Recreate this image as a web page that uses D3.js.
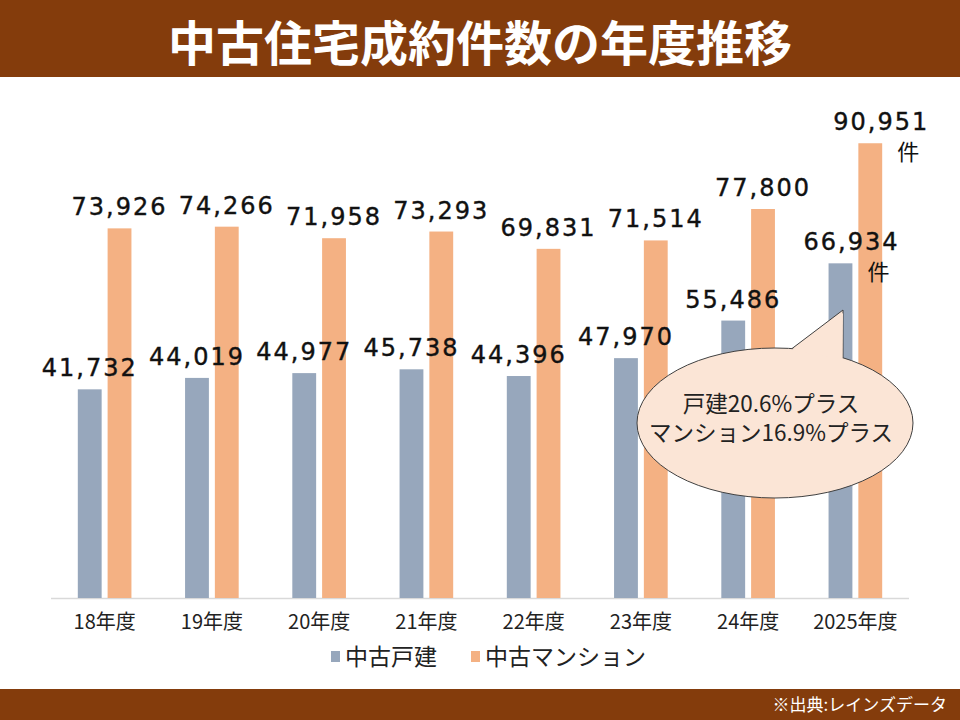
<!DOCTYPE html>
<html lang="ja">
<head>
<meta charset="UTF-8">
<title>中古住宅成約件数の年度推移</title>
<script src="https://cdn.jsdelivr.net/npm/d3@7"></script>
<style>
  body { margin: 0; background: #fff; }
  svg { display: block; }
</style>
</head>
<body>
<script>
var width = 960, height = 720;

// データ
var categories = ["18年度", "19年度", "20年度", "21年度", "22年度", "23年度", "24年度", "2025年度"];
var seriesNames = ["中古戸建", "中古マンション"];
var detached = [41732, 44019, 44977, 45738, 44396, 47970, 55486, 66934];
var mansion = [73926, 74266, 71958, 73293, 69831, 71514, 77800, 90951];
var unitLabels = ["", "", "", "", "", "", "", "件"];
var calloutLines = ["戸建20.6%プラス", "マンション16.9%プラス"];

var colors = ["#97a7bc", "#f4b183"];
var brown = "#843c0c";
var numFont = "'DejaVu Sans', Verdana, sans-serif";
var jpFont = "'Noto Sans CJK JP', 'Noto Sans', sans-serif";

var plot = { left: 51, right: 909, top: 98, bottom: 598 };

var svg = d3.select("body").append("svg")
    .attr("width", width).attr("height", height);

// タイトル帯
svg.append("rect").attr("x", 0).attr("y", 0).attr("width", width).attr("height", 77).attr("fill", brown);
svg.append("text")
    .attr("x", 480).attr("y", 61)
    .attr("text-anchor", "middle")
    .attr("fill", "#fff")
    .attr("font-family", jpFont)
    .attr("font-weight", "bold")
    .attr("font-size", 48)
    .text("中古住宅成約件数の年度推移");

// 下の帯
svg.append("rect").attr("x", 0).attr("y", 689).attr("width", width).attr("height", 31).attr("fill", brown);
svg.append("text")
    .attr("x", 947).attr("y", 711)
    .attr("text-anchor", "end")
    .attr("fill", "#fff")
    .attr("font-family", jpFont)
    .attr("font-size", 17)
    .text("※出典:レインズデータ");

// スケール
var x0 = d3.scaleBand().domain(categories).range([plot.left, plot.right])
    .paddingInner(0.5).paddingOuter(0.25);
var x1 = d3.scaleBand().domain(seriesNames).range([0, x0.bandwidth()]).paddingInner(0.2);
var y = d3.scaleLinear().domain([0, 100000]).range([plot.bottom, plot.top]);

var rows = categories.map(function(c, i) {
    return { cat: c, unit: unitLabels[i], vals: [detached[i], mansion[i]] };
});

// 軸
var xAxis = svg.append("g")
    .attr("transform", "translate(0," + plot.bottom + ")")
    .call(d3.axisBottom(x0).tickSize(0).tickPadding(0));
xAxis.select(".domain").attr("stroke", "#d9d9d9").attr("stroke-width", 1.3)
    .attr("d", "M" + plot.left + ",0.5H" + plot.right);
xAxis.selectAll("text")
    .attr("dy", 31)
    .attr("fill", "#222")
    .attr("font-family", jpFont)
    .attr("font-size", 20);

// 棒
var groups = svg.selectAll("g.grp").data(rows).enter().append("g")
    .attr("class", "grp")
    .attr("transform", function(d) { return "translate(" + x0(d.cat) + ",0)"; });

groups.selectAll("rect")
    .data(function(d) { return d.vals.map(function(v, j) { return { name: seriesNames[j], v: v, j: j }; }); })
    .enter().append("rect")
    .attr("x", function(d) { return x1(d.name); })
    .attr("y", function(d) { return y(d.v); })
    .attr("width", x1.bandwidth())
    .attr("height", function(d) { return plot.bottom - y(d.v); })
    .attr("fill", function(d) { return colors[d.j]; });

// 吹き出し
var cx = 775, cy = 423, rx = 138, ry = 75;
var tip = [843, 310];
function edgeY(px) { return cy - ry * Math.sqrt(1 - Math.pow((px - cx) / rx, 2)); }
var ax = 792, bx = 843;
svg.append("g").call(function(g) {
    g.append("ellipse").attr("cx", cx).attr("cy", cy).attr("rx", rx).attr("ry", ry)
        .attr("fill", "#fbe5d6").attr("stroke", "#404040").attr("stroke-width", 1);
    g.append("path").attr("d", "M" + ax + "," + edgeY(ax) + "L" + tip[0] + "," + tip[1] + "L" + bx + "," + edgeY(bx))
        .attr("fill", "#fbe5d6").attr("stroke", "#404040").attr("stroke-width", 1);
    // つなぎ目を隠す
    g.append("path").attr("d", "M" + ax + "," + (edgeY(ax) + 1.5) +
        "L" + tip[0] + "," + (tip[1] + 3) + "L" + (bx - 0.6) + "," + (edgeY(bx) + 1.5) + "Z")
        .attr("fill", "#fbe5d6");
    g.selectAll("text.c").data(calloutLines).enter().append("text")
        .attr("x", cx - 4)
        .attr("y", function(d, i) { return 412 + i * 29; })
        .attr("text-anchor", "middle")
        .attr("fill", "#222")
        .attr("font-family", jpFont)
        .attr("font-size", 22.5)
        .text(function(d) { return d; });
});

// 数値ラベル
groups.each(function(d) {
    var g = d3.select(this);
    d.vals.forEach(function(v, j) {
        var xc = x1(seriesNames[j]) + x1.bandwidth() / 2 + (d.unit ? 11 : 0);
        g.append("text")
            .attr("x", xc)
            .attr("y", y(v) - 13)
            .attr("text-anchor", "middle")
            .attr("fill", "#111")
            .attr("stroke", "#111")
            .attr("stroke-width", 0.4)
            .attr("font-family", numFont)
            .attr("font-size", 24)
            .attr("letter-spacing", 2)
            .text(d3.format(",")(v));
        if (d.unit) {
            g.append("text")
                .attr("x", xc + 27)
                .attr("y", y(v) + 17)
                .attr("text-anchor", "middle")
                .attr("fill", "#111")
                .attr("font-family", jpFont)
                .attr("font-size", 22)
                .text(d.unit);
        }
    });
});

// 凡例
var legend = svg.append("g").attr("transform", "translate(0,657)");
var legX = [331, 471];
seriesNames.forEach(function(name, j) {
    legend.append("rect").attr("x", legX[j]).attr("y", -6).attr("width", 9).attr("height", 11)
        .attr("fill", colors[j]);
    legend.append("text").attr("x", legX[j] + 14).attr("y", 8)
        .attr("fill", "#222")
        .attr("font-family", jpFont)
        .attr("font-size", 23)
        .text(name);
});
</script>
</body>
</html>
